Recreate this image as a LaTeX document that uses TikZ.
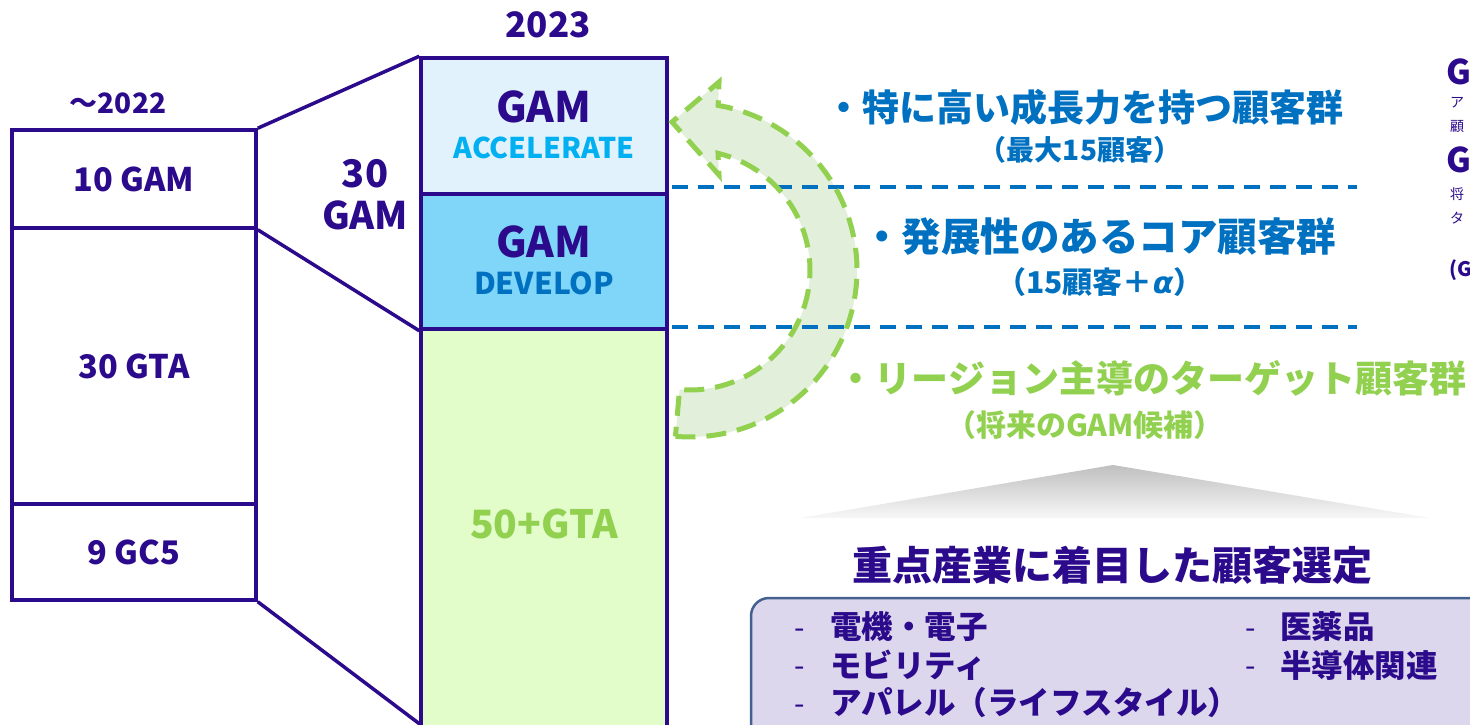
\documentclass[tikz,border=0pt]{standalone}
\usepackage{fontspec}
\setmainfont{Noto Sans CJK JP}
\newfontfamily\dvs{DejaVu Sans}
\usetikzlibrary{calc}
\definecolor{cpurple}{HTML}{2B0A8C}
\definecolor{cblue}{HTML}{0070C0}
\definecolor{cgreen}{HTML}{92D050}
\definecolor{ccyan}{HTML}{00B0F0}
\definecolor{accfill}{HTML}{E1F2FD}
\definecolor{devfill}{HTML}{80D6F8}
\definecolor{gtafill}{HTML}{E2FCCA}
\definecolor{arrowfill}{HTML}{E2EFDA}
\definecolor{boxfill}{HTML}{DCD7EC}
\definecolor{boxline}{HTML}{44608F}
\newcommand{\FSz}[1]{\fontsize{#1}{#1}\selectfont}
\newcommand{\ArrowPath}{plot[domain=95:-80.3, samples=60] ({690+167*cos(\x)},{270+167*sin(\x)}) -- (719,82) -- (672,122) -- (719,175) -- plot[domain=-76.5:95, samples=60] ({690+120*cos(\x)},{270+120*sin(\x)}) -- cycle}
\begin{document}
\begin{tikzpicture}[x=1pt,y=-1pt,
  cell/.style={draw=cpurple, line width=3.5pt, rectangle, inner sep=0pt, align=center, text=cpurple, font=\bfseries\FSz{32.5}},
  rcell/.style={draw=cpurple, line width=3.5pt, rectangle, inner sep=0pt, minimum width=246pt},
  pline/.style={draw=cpurple, line width=3.5pt},
  lbl/.style={inner sep=0pt, align=center},
  bdash/.style={draw=cblue, line width=3.5pt, dash pattern=on 16pt off 10pt},
  item/.style={inner sep=0pt, anchor=west, text=cpurple, font=\bfseries\FSz{31.5}},
  idash/.style={inner sep=0pt, text=cpurple, font=\FSz{30}},
  small/.style={inner sep=0pt, anchor=west, text=cpurple, font=\FSz{14}}
]
\useasboundingbox (0,0) rectangle (1470,725);

% left column (~2022)
\node[cell, minimum width=244pt, minimum height=98pt] (c1) at (134,179) {10 GAM};
\node[cell, minimum width=244pt, minimum height=276pt] (c2) at (134,366) {30 GTA};
\node[cell, minimum width=244pt, minimum height=96pt] (c3) at (134,552) {9 GC5};
\node[lbl, text=cpurple, font=\bfseries\FSz{28}] (y22) at (118,103) {～2022};

% right column (2023)
\node[rcell, fill=gtafill, minimum height=416pt] (gta) at (544,537) {};
\node[rcell, fill=devfill, minimum height=135pt] (dev) at (544,261.5) {};
\node[rcell, fill=accfill, minimum height=136pt] (acc) at (544,126) {};
\node[lbl, text=cpurple, font=\bfseries\FSz{35}] (y23) at (548,25) {2023};
\node[lbl, text=cpurple, font=\bfseries\FSz{42}] (accT) at (544,107) {GAM};
\node[lbl, text=ccyan, font=\bfseries\FSz{28.5}] (accS) at (544,148) {ACCELERATE};
\node[lbl, text=cpurple, font=\bfseries\FSz{42}] (devT) at (544,242) {GAM};
\node[lbl, text=cblue, font=\bfseries\FSz{30}] (devS) at (544,283) {DEVELOP};
\node[lbl, text=cgreen, font=\bfseries\FSz{39}] (gtaT) at (544,524) {50+GTA};
\node[lbl, text=cpurple, font=\bfseries\FSz{38}, execute at begin node={\baselineskip=42pt}] (g30) at (365,195) {30\\GAM};

% connectors
\coordinate (gtaB) at (421,725);
\draw[pline] (c1.north east) -- (acc.north west);
\draw[pline] (c1.south east) -- (dev.south west);
\draw[pline] (c3.south east) -- (gtaB);

% curved arrow
\fill[arrowfill] \ArrowPath;
\coordinate (bl1) at (672,187); \coordinate (br1) at (1357,187);
\coordinate (bl2) at (672,327); \coordinate (br2) at (1357,327);
\draw[bdash] (bl1) -- (br1);
\draw[bdash] (bl2) -- (br2);
\draw[cgreen, line width=5pt, dash pattern=on 20pt off 11pt, line join=miter] \ArrowPath;

% right texts
\node[lbl, text=cblue, font=\bfseries\FSz{37}] (t1) at (1084,107) {・特に高い成長力を持つ顧客群};
\node[lbl, text=cblue, font=\bfseries\FSz{28}] (t1s) at (1080,150) {（最大15顧客）};
\node[lbl, text=cblue, font=\bfseries\FSz{39.5}] (t2) at (1099,237) {・発展性のあるコア顧客群};
\node[lbl, text=cblue, font=\bfseries\FSz{30}] (t2s) at (1100,282) {（15顧客＋{\dvs\bfseries\itshape α}）};
\node[lbl, text=cgreen, font=\bfseries\FSz{37}] (t3) at (1152,378) {・リージョン主導のターゲット顧客群};
\node[lbl, text=cgreen, font=\bfseries\FSz{30}] (t3s) at (1085,425) {（将来のGAM候補）};

% gray triangle
\shade[top color=black!25, middle color=black!45, bottom color=black!3] (1113,465) -- (1430,518) -- (800,518) -- cycle;
\node[lbl, text=cpurple, font=\bfseries\FSz{40}] (hd) at (1112,565) {重点産業に着目した顧客選定};

% industry box
\node[draw=boxline, fill=boxfill, rounded corners=18pt, line width=2.5pt, minimum width=740pt, minimum height=150pt, inner sep=0pt] (box) at (1121,673) {};
\node[idash] (d1) at (800,634) {-};
\node[idash] (d2) at (800,672) {-};
\node[idash] (d3) at (800,710) {-};
\node[idash] (d4) at (1251,634) {-};
\node[idash] (d5) at (1251,672) {-};
\node[item] (i1) at (830,627) {電機・電子};
\node[item] (i2) at (830,665) {モビリティ};
\node[item] (i3) at (830,703) {アパレル（ライフスタイル）};
\node[item] (i4) at (1280,627) {医薬品};
\node[item] (i5) at (1280,665) {半導体関連};

% texts at right edge
\node[small, font=\bfseries\FSz{34}] (rg1) at (1446,72) {G};
\node[small] (ra1) at (1450,103) {ア};
\node[small] (ra2) at (1450,127) {顧};
\node[small, font=\bfseries\FSz{34}] (rg2) at (1446,160) {G};
\node[small] (ra3) at (1450,194) {将};
\node[small] (ra4) at (1450,218) {タ};
\node[small, font=\bfseries\FSz{20}] (rg3) at (1449,270) {(G};
\end{tikzpicture}
\end{document}
